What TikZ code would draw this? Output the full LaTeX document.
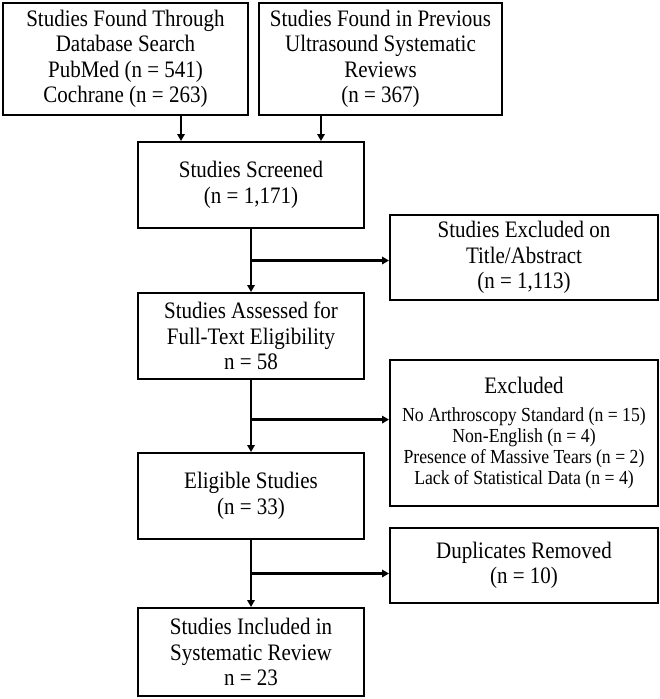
\documentclass[tikz,border=0pt]{standalone}
\usepackage{fontspec}
\setmainfont[FakeStretch=0.89]{Liberation Serif}
\usetikzlibrary{arrows.meta,calc}
\begin{document}
\begin{tikzpicture}[x=1pt,y=-1pt,
  box/.style={draw=black, line width=2pt, align=center, inner sep=0pt,
    font=\fontsize{23.6}{25.5}\selectfont},
  mainbox/.style={box, minimum width=226pt, minimum height=86pt},
  sidebox/.style={box, minimum width=268pt},
  arr/.style={line width=2.4pt, -{Triangle[length=7pt,width=7.5pt]}},
  ]
\useasboundingbox (0,0) rectangle (660,699);
\node[box, minimum width=245pt, minimum height=112pt] (A) at (125.5,59)
  {Studies Found Through\\Database Search\\PubMed (n = 541)\\Cochrane (n = 263)};
\node[box, minimum width=243pt, minimum height=112pt] (B) at (380.5,59)
  {Studies Found in Previous\\Ultrasound Systematic\\Reviews\\(n = 367)};
\node[mainbox] (C) at (251,185) {Studies Screened\\(n = 1,171)};
\node[sidebox, minimum height=85pt] (D) at (524,257.5) {Studies Excluded on\\Title/Abstract\\(n = 1,113)};
\node[mainbox] (E) at (251,336) {Studies Assessed for\\Full-Text Eligibility\\n = 58};
\node[sidebox, minimum height=146pt, font=\fontsize{19.9}{21}\selectfont] (F) at (524,433)
  {{\fontsize{23.6}{25}\selectfont Excluded}\\[7pt]No Arthroscopy Standard (n = 15)\\Non-English (n = 4)\\Presence of Massive Tears (n = 2)\\Lack of Statistical Data (n = 4)};
\node[mainbox] (G) at (251,496) {Eligible Studies\\(n = 33)};
\node[sidebox, minimum height=75pt] (H) at (524,565.5) {Duplicates Removed\\(n = 10)};
\node[box, minimum width=226pt, minimum height=88pt] (I) at (251,652) {Studies Included in\\Systematic Review\\n = 23};

\draw[arr] ([xshift=55.5pt]A.south) -- ([xshift=55.5pt]A.south |- C.north);
\draw[arr] ([xshift=-59.5pt]B.south) -- ([xshift=-59.5pt]B.south |- C.north);

\draw[arr] (C.south) -- (E.north);
\draw[arr] (E.south) -- (G.north);
\draw[arr] (G.south) -- (I.north);

\coordinate (b1) at ($(C.south)!0.5!(E.north)$);
\coordinate (b2) at ($(E.south)!0.55!(G.north)$);
\coordinate (b3) at ($(G.south)!0.5!(I.north)$);
\draw[arr] (b1) -- (b1 -| D.west);
\draw[arr] (b2) -- (b2 -| F.west);
\draw[arr] (b3) -- (b3 -| H.west);
\end{tikzpicture}
\end{document}
